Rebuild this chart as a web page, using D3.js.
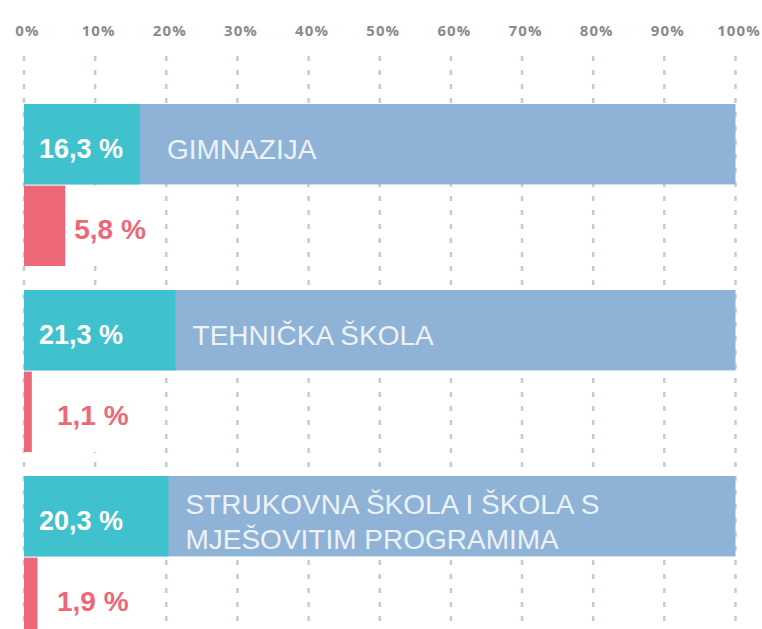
<!DOCTYPE html>
<html>
<head>
<meta charset="utf-8">
<script src="https://cdn.jsdelivr.net/npm/d3@7"></script>
<style>
  html, body { margin: 0; padding: 0; background: #ffffff; }
  svg { display: block; }
</style>
</head>
<body>
<svg id="chart" width="762" height="629"></svg>
<script>
// ---- data ----
const categories = ["GIMNAZIJA", "TEHNIČKA ŠKOLA", "STRUKOVNA ŠKOLA I ŠKOLA S MJEŠOVITIM PROGRAMIMA"];
const categoryLines = [["GIMNAZIJA"], ["TEHNIČKA ŠKOLA"], ["STRUKOVNA ŠKOLA I ŠKOLA S", "MJEŠOVITIM PROGRAMIMA"]];
const shareValues = [16.3, 21.3, 20.3];
const dropoutValues = [5.8, 1.1, 1.9];
const tickValues = [0, 10, 20, 30, 40, 50, 60, 70, 80, 90, 100];
const tickLabels = ["0%", "10%", "20%", "30%", "40%", "50%", "60%", "70%", "80%", "90%", "100%"];

// ---- style ----
const colTeal = "#40c1ce";
const colBlue = "#8fb3d6";
const colRed = "#ec6878";
const colGrid = "#c6cbd2";
const colTick = "#8a8a8a";

const svg = d3.select("#chart");
const W = 762, H = 629;

const x = d3.scaleLinear().domain([0, 100]).range([24, 735.5]);
const y = d3.scaleBand().domain(categories).range([104, 638]).paddingInner(0.129).paddingOuter(0);
const sub = d3.scaleBand().domain(["share", "dropout"]).range([0, y.bandwidth()]).paddingInner(0.015);

const fmt = v => v.toFixed(1).replace(".", ",") + " %";

// gridlines
svg.append("g").selectAll("line").data(tickValues).join("line")
  .attr("x1", d => x(d)).attr("x2", d => x(d))
  .attr("y1", 56).attr("y2", H)
  .attr("stroke", colGrid).attr("stroke-width", 2.5)
  .attr("stroke-dasharray", "5,9");

// top axis labels
const axis = d3.axisTop(x).tickValues(tickValues).tickFormat((d, i) => tickLabels[i]).tickSize(0).tickPadding(0);
const gAxis = svg.append("g").attr("transform", "translate(3,36)").call(axis);
gAxis.select(".domain").remove();
gAxis.selectAll("text")
  .attr("fill", colTick)
  .attr("font-family", "'Open Sans', sans-serif")
  .attr("font-weight", 700)
  .attr("font-size", 15)
  .attr("letter-spacing", 1.1)
  .attr("dy", 0);

// groups
const groups = svg.append("g").selectAll("g").data(categories).join("g")
  .attr("transform", d => `translate(0,${y(d)})`);

// blue full bar
groups.append("rect")
  .attr("x", x(0)).attr("y", sub("share"))
  .attr("width", x(100) - x(0)).attr("height", sub.bandwidth())
  .attr("fill", colBlue);

// teal share bar
groups.append("rect")
  .attr("x", x(0)).attr("y", sub("share"))
  .attr("width", (d, i) => x(shareValues[i]) - x(0)).attr("height", sub.bandwidth())
  .attr("fill", colTeal);

// red dropout bar
groups.append("rect")
  .attr("x", x(0)).attr("y", sub("dropout"))
  .attr("width", (d, i) => x(dropoutValues[i]) - x(0)).attr("height", sub.bandwidth())
  .attr("fill", colRed);

const midShare = sub("share") + sub.bandwidth() / 2;
const midDrop = sub("dropout") + sub.bandwidth() / 2;

// share value labels
groups.append("text")
  .attr("x", x(0) + 15)
  .attr("y", midShare + 5)
  .attr("dominant-baseline", "central")
  .attr("fill", "#ffffff")
  .attr("font-family", "'Liberation Sans', Arial, sans-serif")
  .attr("font-weight", 700)
  .attr("font-size", 27)
  .text((d, i) => fmt(shareValues[i]));

// category labels
groups.each(function(d, i) {
  const lines = categoryLines[i];
  const lh = 35;
  const tx = Math.max(x(shareValues[i]) + 17, x(0) + 143);
  const t = d3.select(this).append("text")
    .attr("fill", "#edf2f8")
    .attr("font-family", "'Liberation Sans', Arial, sans-serif")
    .attr("font-size", 28)
    .attr("dominant-baseline", "central");
  lines.forEach((ln, k) => {
    t.append("tspan")
      .attr("x", tx)
      .attr("y", midShare + 5 + (k - (lines.length - 1) / 2) * lh)
      .text(ln);
  });
});

// white backing for dropout labels (hides the gridlines behind them)
const backing = groups.append("rect").attr("fill", "#ffffff");

// dropout labels
const dropLabels = groups.append("text")
  .attr("x", (d, i) => Math.max(x(dropoutValues[i]) + 9, x(0) + 33))
  .attr("y", midDrop + 4)
  .attr("dominant-baseline", "central")
  .attr("fill", colRed)
  .attr("font-family", "'Liberation Sans', Arial, sans-serif")
  .attr("font-weight", 700)
  .attr("font-size", 28)
  .text((d, i) => fmt(dropoutValues[i]));

dropLabels.each(function(d, i) {
  const bb = this.getBBox();
  const x0 = x(dropoutValues[i]) + 1;
  d3.select(backing.nodes()[i])
    .attr("x", x0)
    .attr("y", sub("dropout"))
    .attr("width", bb.x + bb.width + 3 - x0)
    .attr("height", sub.bandwidth());
});
</script>
</body>
</html>
